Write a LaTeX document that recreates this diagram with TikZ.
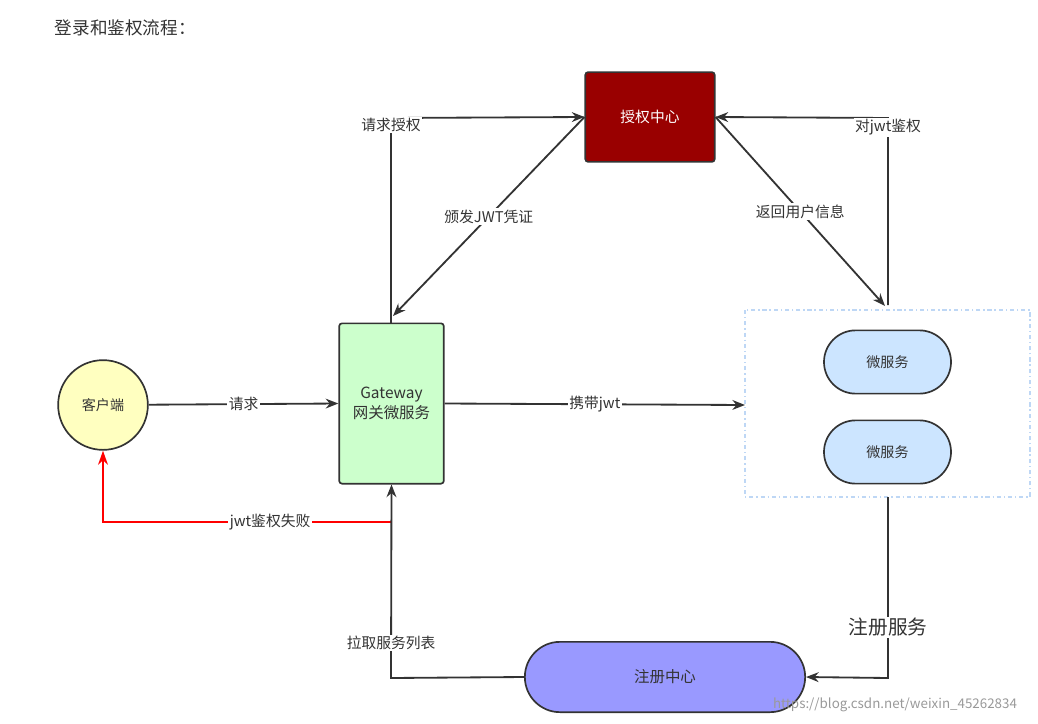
\documentclass[tikz,border=0pt]{standalone}
\usepackage{fontspec}
\setmainfont{Noto Sans CJK SC}
\usetikzlibrary{arrows.meta,shapes.misc}
\definecolor{ln}{HTML}{333333}
\begin{document}
\begin{tikzpicture}[x=0.025cm,y=-0.025cm,
  box/.style={draw=ln,line width=1.2pt,minimum width=#1},
  lab/.style={fill=white,inner sep=1pt,font=\fontsize{10.5}{12}\selectfont,text=ln},
  ar/.style={draw=ln,line width=1.3pt,-{Stealth[length=9pt,width=7pt]}},
  pill/.style={draw=ln,line width=1.2pt,rounded rectangle,font=\fontsize{10}{12}\selectfont,text=ln}]
\useasboundingbox (0,0) rectangle (1038,723);
\node[anchor=west,font=\fontsize{12.5}{14}\selectfont,text=ln] (title) at (50,28) {登录和鉴权流程：};
\node[box=92pt,minimum height=63.8pt,fill={rgb,255:red,153;green,0;blue,0},rounded corners=2pt,text=white,font=\fontsize{10.5}{12}\selectfont] (auth) at (650,117) {授权中心};
\node[box=74.4pt,minimum height=114pt,fill={rgb,255:red,204;green,255;blue,204},rounded corners=2pt,align=center,font=\fontsize{11}{14}\selectfont,text=ln] (gw) at (391.5,403.5) {Gateway\\网关微服务};
\node[draw=ln,line width=1.2pt,circle,minimum size=63.8pt,fill={rgb,255:red,255;green,255;blue,192},font=\fontsize{10}{12}\selectfont,text=ln] (cl) at (103,405) {客户端};
\draw[draw={rgb,255:red,190;green,215;blue,245},line width=1pt,dash dot] (745,310) rectangle (1030,497);
\coordinate (ms) at (745,405);
\node[pill,minimum width=97pt,minimum height=45pt,fill={rgb,255:red,204;green,229;blue,255}] (m1) at (887.5,362) {微服务};
\node[pill,minimum width=97pt,minimum height=45pt,fill={rgb,255:red,204;green,229;blue,255}] (m2) at (887.5,452) {微服务};
\node[pill,minimum width=206pt,minimum height=50pt,fill={rgb,255:red,153;green,153;blue,255},font=\fontsize{11}{12}\selectfont] (reg) at (665,677) {注册中心};
\coordinate (gwt) at (391,323);
\coordinate (c1) at (391,118);
\draw[ar] (gwt) -- (c1) node[lab,pos=0.965] {请求授权} -- (auth.west);
\draw[ar] (auth.west) -- (393,316) node[lab,midway] {颁发JWT凭证};
\coordinate (r1) at (888,305);
\coordinate (r2) at (888,118);
\draw[ar] (r1) -- (r2) node[lab,pos=0.95] {对jwt鉴权} -- (auth.east);
\draw[ar] (auth.east) -- (885,306) node[lab,pos=0.5] {返回用户信息};
\draw[ar] (cl) -- (gw.west) node[lab,midway] {请求};
\draw[ar] (gw.east) -- (ms) node[lab,midway] {携带jwt};
\coordinate (rr) at (391,522);
\draw[red,line width=1.4pt,-{Stealth[length=10pt,width=7pt]}] (rr) -- (103,522) node[lab,pos=0.42,text=ln] {jwt鉴权失败} -- (cl.south);
\coordinate (p1) at (391,678);
\draw[ar] (reg.west) -- (p1) -- (gw.south) node[lab,pos=0.18] {拉取服务列表};
\coordinate (s1) at (888,497);
\coordinate (s2) at (888,678);
\draw[ar] (s1) -- (s2) node[lab,pos=0.72,font=\fontsize{14}{16}\selectfont] {注册服务} -- (reg.east);
\node[text=gray!80,font=\fontsize{9.5}{11}\selectfont] (wm) at (895,705) {https://blog.csdn.net/weixin\_45262834};
\end{tikzpicture}
\end{document}
